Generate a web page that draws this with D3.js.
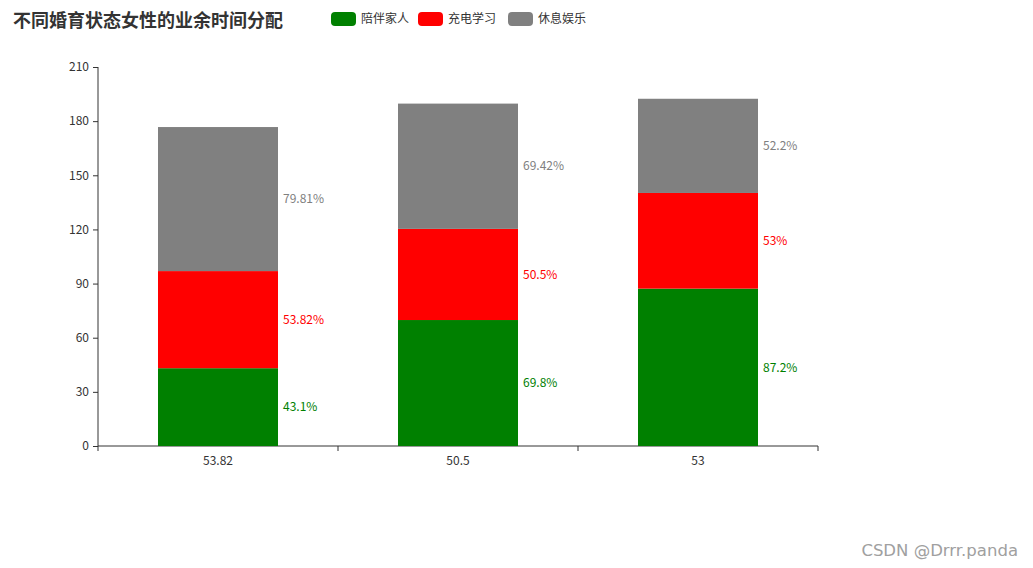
<!DOCTYPE html>
<html><head><meta charset="utf-8">
<script src="https://cdn.jsdelivr.net/npm/d3@7"></script>
<style>body{margin:0;background:#fff;}svg{display:block;font-family:"Microsoft YaHei","Noto Sans CJK SC",sans-serif;}</style>
</head><body>
<svg id="c" width="1033" height="568"></svg>
<script>
const categories = ["53.82", "50.5", "53"];
const seriesNames = ["陪伴家人", "充电学习", "休息娱乐"];
const family = [43.1, 69.8, 87.2];
const study = [53.82, 50.5, 53];
const leisure = [79.81, 69.42, 52.2];
const yTicks = [0, 30, 60, 90, 120, 150, 180, 210];
const colors = ["#008000", "#ff0000", "#808080"];
const title = "不同婚育状态女性的业余时间分配";
const watermark = "CSDN @Drrr.panda";

const svg = d3.select("#c");
const m = {l: 98, r: 818, t: 67, b: 446};
const x = d3.scaleBand().domain(categories).range([m.l, m.r]);
const y = d3.scaleLinear().domain([0, 210]).range([m.b, m.t]);

const rows = categories.map((c, i) => ({cat: c, s0: family[i], s1: study[i], s2: leisure[i]}));
const stack = d3.stack().keys(["s0", "s1", "s2"])(rows);

// axes
const yAxis = svg.append("g").attr("transform", `translate(${m.l},0)`)
  .call(d3.axisLeft(y).tickValues(yTicks).tickSize(5).tickPadding(4));
const xAxis = svg.append("g").attr("transform", `translate(0,${m.b})`)
  .call(d3.axisBottom(x).tickSize(0).tickPadding(10));
[yAxis, xAxis].forEach(a => {
  a.select(".domain").attr("stroke", "#333");
  a.selectAll("line").attr("stroke", "#333");
  a.selectAll("text").attr("fill", "#333").style("font-size", "12px")
    .style("font-family", "'Microsoft YaHei','Noto Sans CJK SC',sans-serif");
});
yAxis.select(".domain").attr("d", `M0,${m.b}V${m.t}`);
xAxis.select(".domain").attr("d", `M${m.l},0H${m.r}`);
// x boundary ticks
const bounds = categories.map(c => x(c)).concat([m.r]);
xAxis.selectAll(".bt").data(bounds).enter().append("line")
  .attr("x1", d => d).attr("x2", d => d).attr("y1", 0).attr("y2", 5).attr("stroke", "#333");

const bw = x.bandwidth() / 2;
stack.forEach((layer, k) => {
  const g = svg.append("g");
  g.selectAll("rect").data(layer).enter().append("rect")
    .attr("x", d => x(d.data.cat) + (x.bandwidth() - bw) / 2)
    .attr("width", bw)
    .attr("y", d => y(d[1]))
    .attr("height", d => y(d[0]) - y(d[1]))
    .attr("fill", colors[k]);
  g.selectAll("text").data(layer).enter().append("text")
    .attr("x", d => x(d.data.cat) + (x.bandwidth() + bw) / 2 + 5)
    .attr("y", d => (y(d[0]) + y(d[1])) / 2)
    .attr("dy", "0.35em")
    .attr("fill", colors[k])
    .style("font-size", "12px")
    .text(d => (d[1] - d[0]).toFixed(2).replace(/\.?0+$/, "") + "%");
});

// title
svg.append("text").attr("x", 13).attr("y", 27).text(title)
  .attr("fill", "#333").style("font-size", "18px").style("font-weight", "bold");

// legend
const leg = svg.append("g");
const legX = [331, 418, 508];
seriesNames.forEach((n, i) => {
  leg.append("rect").attr("x", legX[i]).attr("y", 12).attr("width", 25).attr("height", 14)
    .attr("rx", 4).attr("fill", colors[i]);
  leg.append("text").attr("x", legX[i] + 30).attr("y", 19).attr("dy", "0.35em")
    .attr("fill", "#333").style("font-size", "12px").text(n);
});

// watermark
svg.append("text").attr("x", 1018).attr("y", 556).attr("text-anchor", "end")
  .attr("fill", "#a0a0a0").style("font-size", "16.5px")
  .style("font-family", "'DejaVu Sans',sans-serif").text(watermark);
</script>
</body></html>
